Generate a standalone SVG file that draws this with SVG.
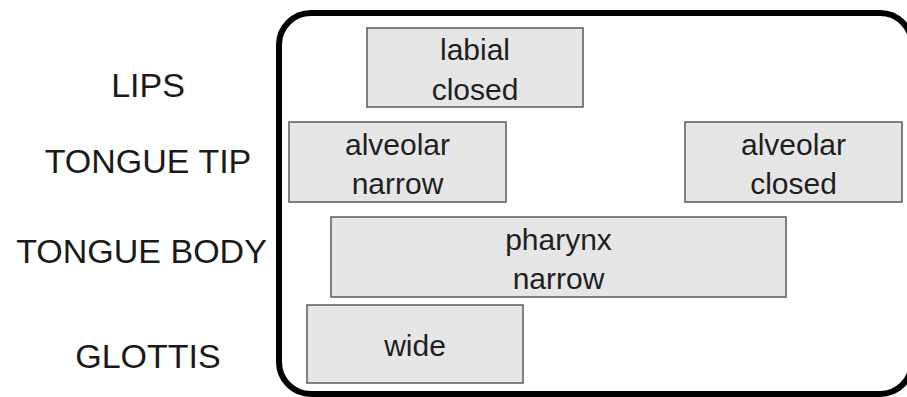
<svg xmlns="http://www.w3.org/2000/svg" width="907" height="397" viewBox="0 0 907 397">
  <style>
    .tier { font-family: "Liberation Sans", Arial, sans-serif; font-size: 34px; fill: #1a1a1a; text-anchor: middle; }
    .gesture rect { fill: #e6e6e6; stroke: #5a5a5a; stroke-width: 1.5; }
    .gesture text { font-family: "Liberation Sans", Arial, sans-serif; font-size: 30px; fill: #1f1f1f; text-anchor: middle; }
  </style>
  <rect width="907" height="397" fill="#ffffff"/>

  <!-- tier labels -->
  <g id="tiers">
    <text class="tier" x="148" y="97">LIPS</text>
    <text class="tier" x="148" y="173">TONGUE TIP</text>
    <text class="tier" x="141.5" y="263">TONGUE BODY</text>
    <text class="tier" x="148" y="368">GLOTTIS</text>
  </g>

  <!-- score frame (right side runs past the edge) -->
  <g id="frame">
    <rect x="279" y="13" width="633" height="381" rx="32" ry="32" fill="none" stroke="#000000" stroke-width="6"/>
  </g>

  <!-- gestures -->
  <g id="lips-labial-closed" class="gesture">
    <rect x="367" y="28" width="216" height="79"/>
    <text x="475" y="60">labial</text>
    <text x="475" y="100">closed</text>
  </g>
  <g id="tip-alveolar-narrow" class="gesture">
    <rect x="289" y="122" width="217" height="80"/>
    <text x="397.5" y="155">alveolar</text>
    <text x="397.5" y="194">narrow</text>
  </g>
  <g id="tip-alveolar-closed" class="gesture">
    <rect x="685" y="122" width="217" height="80"/>
    <text x="793.5" y="155">alveolar</text>
    <text x="793.5" y="194">closed</text>
  </g>
  <g id="body-pharynx-narrow" class="gesture">
    <rect x="331" y="217" width="455" height="80"/>
    <text x="558.5" y="250">pharynx</text>
    <text x="558.5" y="289">narrow</text>
  </g>
  <g id="glottis-wide" class="gesture">
    <rect x="307" y="305" width="216" height="78"/>
    <text x="415" y="356">wide</text>
  </g>

  <!-- no connectors in this chart -->
  <g id="connectors"/>
</svg>
